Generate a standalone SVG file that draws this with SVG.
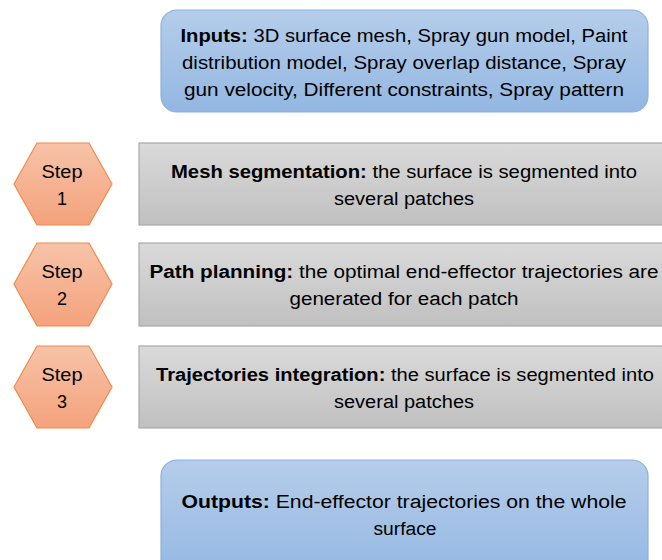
<svg xmlns="http://www.w3.org/2000/svg" width="662" height="560" viewBox="0 0 662 560">
<defs>
<linearGradient id="gBlue" x1="0" y1="0" x2="0" y2="1"><stop offset="0" stop-color="#b5cdea"/><stop offset="1" stop-color="#93b7e2"/></linearGradient>
<linearGradient id="gGray" x1="0" y1="0" x2="0" y2="1"><stop offset="0" stop-color="#dadada"/><stop offset="1" stop-color="#c0c0c0"/></linearGradient>
<linearGradient id="gPeach" x1="0" y1="0" x2="0" y2="1"><stop offset="0" stop-color="#f7c3a8"/><stop offset="1" stop-color="#f4a27c"/></linearGradient>
</defs>
<style>
text{font-family:"Liberation Sans",Arial,sans-serif;font-size:18px;fill:#000;}
.b{font-weight:bold;}
.blue{fill:url(#gBlue);stroke:#8cb1dd;stroke-width:1.2;}
.gray{fill:url(#gGray);stroke:#a9a9a9;stroke-width:1.2;}
.hex{fill:url(#gPeach);stroke:#f08a4b;stroke-width:1.2;}
</style>
<g id="inputs">
<rect class="blue" x="161" y="10" width="487" height="102" rx="16"/>
<text x="404" y="42" text-anchor="middle" textLength="447" lengthAdjust="spacingAndGlyphs"><tspan class="b">Inputs:</tspan> 3D surface mesh, Spray gun model, Paint</text>
<text x="404" y="69" text-anchor="middle" textLength="444" lengthAdjust="spacingAndGlyphs">distribution model, Spray overlap distance, Spray</text>
<text x="404" y="96" text-anchor="middle" textLength="440" lengthAdjust="spacingAndGlyphs">gun velocity, Different constraints, Spray pattern</text>
</g>
<g id="step1">
<polygon class="hex" points="14,184 37,143 89,143 112,184 89,225 37,225"/>
<text x="62" y="178" text-anchor="middle" textLength="41" lengthAdjust="spacingAndGlyphs">Step</text>
<text x="62" y="205" text-anchor="middle">1</text>
</g>
<g id="box1">
<rect class="gray" x="139" y="143" width="530" height="82"/>
<text x="404" y="178" text-anchor="middle" textLength="466" lengthAdjust="spacingAndGlyphs"><tspan class="b">Mesh segmentation:</tspan> the surface is segmented into</text>
<text x="404" y="205" text-anchor="middle" textLength="140" lengthAdjust="spacingAndGlyphs">several patches</text>
</g>
<g id="step2">
<polygon class="hex" points="14,284 37,243 89,243 112,284 89,326 37,326"/>
<text x="62" y="278" text-anchor="middle" textLength="41" lengthAdjust="spacingAndGlyphs">Step</text>
<text x="62" y="305" text-anchor="middle">2</text>
</g>
<g id="box2">
<rect class="gray" x="139" y="243" width="530" height="83"/>
<text x="404" y="278" text-anchor="middle" textLength="509" lengthAdjust="spacingAndGlyphs"><tspan class="b">Path planning:</tspan> the optimal end-effector trajectories are</text>
<text x="404" y="305" text-anchor="middle" textLength="229" lengthAdjust="spacingAndGlyphs">generated for each patch</text>
</g>
<g id="step3">
<polygon class="hex" points="14,387 37,346 89,346 112,387 89,428 37,428"/>
<text x="62" y="381" text-anchor="middle" textLength="41" lengthAdjust="spacingAndGlyphs">Step</text>
<text x="62" y="408" text-anchor="middle">3</text>
</g>
<g id="box3">
<rect class="gray" x="139" y="346" width="530" height="82"/>
<text x="405" y="381" text-anchor="middle" textLength="498" lengthAdjust="spacingAndGlyphs"><tspan class="b">Trajectories integration:</tspan> the surface is segmented into</text>
<text x="404" y="408" text-anchor="middle" textLength="140" lengthAdjust="spacingAndGlyphs">several patches</text>
</g>
<g id="outputs">
<rect class="blue" x="161" y="460" width="487" height="120" rx="16"/>
<text x="404" y="508" text-anchor="middle" textLength="445" lengthAdjust="spacingAndGlyphs"><tspan class="b">Outputs:</tspan> End-effector trajectories on the whole</text>
<text x="405" y="535" text-anchor="middle" textLength="63" lengthAdjust="spacingAndGlyphs">surface</text>
</g>
<g id="connectors"></g>
</svg>
